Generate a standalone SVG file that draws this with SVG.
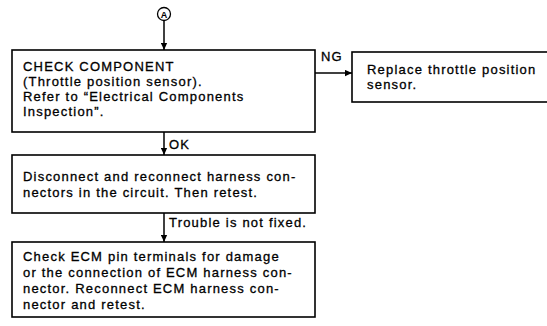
<svg xmlns="http://www.w3.org/2000/svg" width="547" height="326" viewBox="0 0 547 326">
<defs>
<marker id="ah" viewBox="0 0 10 10" refX="10" refY="5" markerWidth="8" markerHeight="7" markerUnits="userSpaceOnUse" orient="auto">
<path d="M0,0.5 L10,5 L0,9.5 Z" fill="#000"/>
</marker>
</defs>
<style>
.box{fill:#fff;stroke:#000;stroke-width:1.6}
.t{font-family:"Liberation Sans",Arial,sans-serif;font-size:13px;letter-spacing:1.2px;fill:#000;stroke:#000;stroke-width:0.3}
.c{fill:none;stroke:#000;stroke-width:1.5}
</style>
<rect width="547" height="326" fill="#fff"/>
<g id="start">
<circle cx="164" cy="14" r="6.5" fill="#fff" stroke="#000" stroke-width="1.3"/>
<text x="164" y="17.5" text-anchor="middle" font-family="Liberation Sans,Arial,sans-serif" font-size="9" font-weight="bold">A</text>
</g>
<g id="connectors">
<path class="c" d="M164,20.5 V50" marker-end="url(#ah)"/>
<path class="c" d="M315,73 H352" marker-end="url(#ah)"/>
<path class="c" d="M164,132 V155" marker-end="url(#ah)"/>
<path class="c" d="M164,213 V242" marker-end="url(#ah)"/>
<text class="t" x="321" y="61">NG</text>
<text class="t" x="169" y="149">OK</text>
<text class="t" x="169" y="227">Trouble is not fixed.</text>
</g>
<g id="check-component">
<rect class="box" x="12" y="50" width="303" height="82"/>
<text class="t" x="23" y="71">CHECK COMPONENT</text>
<text class="t" x="23" y="86">(Throttle position sensor).</text>
<text class="t" x="23" y="101">Refer to “Electrical Components</text>
<text class="t" x="23" y="116">Inspection”.</text>
</g>
<g id="replace">
<rect class="box" x="352" y="52" width="210" height="50"/>
<text class="t" x="367" y="74">Replace throttle position</text>
<text class="t" x="367" y="89">sensor.</text>
</g>
<g id="reconnect">
<rect class="box" x="12" y="155" width="303" height="58"/>
<text class="t" x="23" y="181">Disconnect and reconnect harness con-</text>
<text class="t" x="23" y="197">nectors in the circuit. Then retest.</text>
</g>
<g id="check-ecm">
<rect class="box" x="12" y="242" width="303" height="75"/>
<text class="t" x="23" y="261">Check ECM pin terminals for damage</text>
<text class="t" x="23" y="277">or the connection of ECM harness con-</text>
<text class="t" x="23" y="293">nector. Reconnect ECM harness con-</text>
<text class="t" x="23" y="309">nector and retest.</text>
</g>
</svg>
